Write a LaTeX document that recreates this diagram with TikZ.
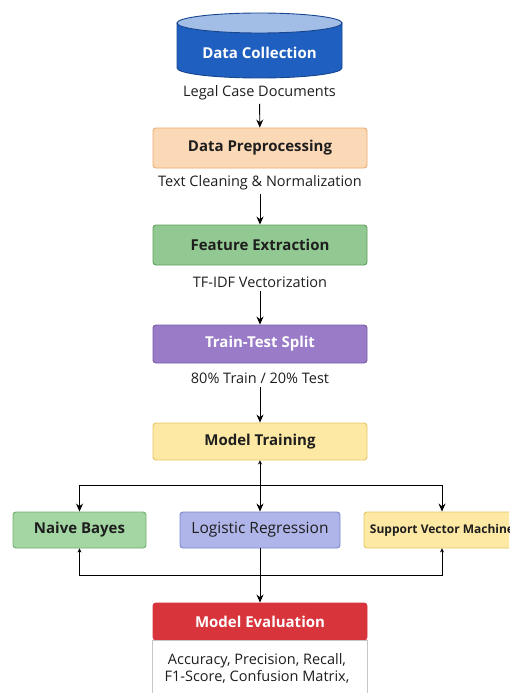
\documentclass[tikz,border=0pt]{standalone}
\usepackage{fontspec}
\setmainfont{Open Sans}
\usepackage{xcolor}
\usetikzlibrary{arrows.meta}

\definecolor{cylbody}{HTML}{1F5FBF}
\definecolor{cyltop}{HTML}{A3BEE6}
\definecolor{cylline}{HTML}{17468F}
\definecolor{prepfill}{HTML}{FCD9B6}
\definecolor{prepline}{HTML}{EDAA70}
\definecolor{featfill}{HTML}{92C992}
\definecolor{featline}{HTML}{5E9F5E}
\definecolor{splitfill}{HTML}{9A7BC8}
\definecolor{splitline}{HTML}{7A5AA8}
\definecolor{trainfill}{HTML}{FDE8A4}
\definecolor{trainline}{HTML}{E6C463}
\definecolor{nbfill}{HTML}{A3D6A3}
\definecolor{nbline}{HTML}{6FAF6F}
\definecolor{lrfill}{HTML}{AFB5E8}
\definecolor{lrline}{HTML}{7C85CB}
\definecolor{evalfill}{HTML}{D8343C}
\definecolor{inkdark}{HTML}{1E1E1E}

\tikzset{
  stagebox/.style={rounded corners=3pt, line width=0.9pt, minimum width=214pt,
    minimum height=38pt, font=\fontsize{15}{18}\selectfont\bfseries, text=inkdark},
  modelbox/.style={rounded corners=3pt, line width=0.9pt, minimum height=36pt,
    font=\fontsize{15}{18}\selectfont\bfseries, text=inkdark},
  note/.style={font=\fontsize{14.5}{17}\selectfont, text=inkdark},
  flow/.style={line width=0.9pt, -{Stealth[length=8pt,width=7pt]}},
  backtip/.style={line width=0.9pt, -{Stealth[length=4pt,width=4pt]}}
}

\begin{document}
\begin{tikzpicture}[x=1pt,y=-1pt]
        \useasboundingbox (0,0) rectangle (509,693);
        \clip (0,0) rectangle (509,693);
        % database
        \filldraw[fill=cylbody,draw=cylline,line width=0.9pt] (177,23) -- (177,68)
            arc[start angle=180,end angle=0,x radius=82.5,y radius=10] -- (342,23) -- cycle;
        \filldraw[fill=cyltop,draw=cylline,line width=0.9pt] (259.5,23) ellipse [x radius=82.5,y radius=10];
        \node[font=\fontsize{15}{18}\selectfont\bfseries,text=white] (collect) at (259.5,53) {Data Collection};
        \node[note] (docs) at (259.5,93) {Legal Case Documents};
        % pipeline
        \node[stagebox,fill=prepfill,draw=prepline,minimum height=40pt] (prep) at (260,148) {Data Preprocessing};
        \node[note] (clean) at (260,183) {Text Cleaning \& Normalization};
        \node[stagebox,fill=featfill,draw=featline,minimum height=40pt] (feat) at (260,245) {Feature Extraction};
        \node[note] (tfidf) at (260,282) {TF-IDF Vectorization};
        \node[stagebox,fill=splitfill,draw=splitline,text=white] (split) at (260,344) {Train-Test Split};
        \node[note] (ratio) at (260,378) {80\% Train / 20\% Test};
        \node[stagebox,fill=trainfill,draw=trainline,minimum height=37pt] (train) at (260,441.5) {Model Training};
        % models
        \node[modelbox,fill=nbfill,draw=nbline,minimum width=133pt] (nb) at (79.5,530) {Naive Bayes};
        \node[modelbox,fill=lrfill,draw=lrline,minimum width=160pt,font=\fontsize{15.5}{18}\selectfont] (lr) at (260,530) {Logistic Regression};
        \node[modelbox,fill=trainfill,draw=trainline,minimum width=156pt,
            font=\fontsize{12}{15}\selectfont\bfseries] (svm) at (442,530) {Support Vector Machine};
        % evaluation
        \node[stagebox,fill=evalfill,draw=evalfill,text=white,minimum height=37pt] (eval) at (260,621.5) {Model Evaluation};
        \draw[draw=gray!45,line width=0.9pt,fill=white] (eval.south west) rectangle (367,730);
        \node[note,align=center] (metrics) at (257,668.5) {Accuracy, Precision, Recall,\\F1-Score, Confusion Matrix,};
        % connectors
        \draw[flow] (docs) -- (prep);
        \draw[flow] (clean) -- (feat);
        \draw[flow] (tfidf) -- (split);
        \draw[flow] (ratio) -- (train);
        \coordinate (fork) at (260,485);
        \coordinate (join) at (260,575);
        \draw[backtip] (fork) -- (train.south);
        \draw[flow] (fork) -| (nb.north);
        \draw[flow] (fork) -- (lr.north);
        \draw[flow] (fork) -| (svm.north);
        \draw[backtip] (join) -| (nb.south);
        \draw[backtip] (join) -| (svm.south);
        \draw[flow] (lr.south) -- (eval.north);
    \end{tikzpicture}
\end{document}
